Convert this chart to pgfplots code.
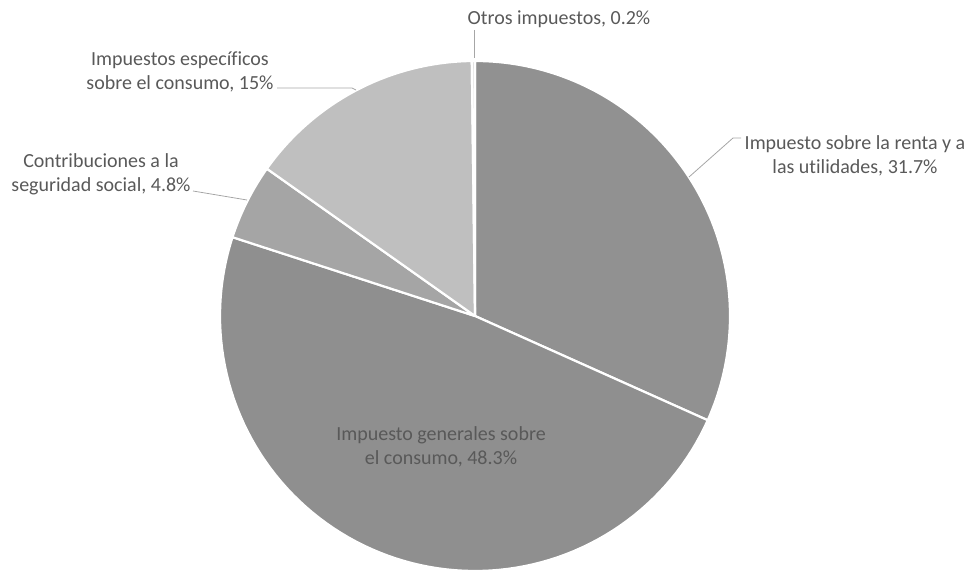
\documentclass[border=0pt]{standalone}
\usepackage{pgfplots}
\pgfplotsset{compat=1.18}
\usepackage{fontspec}
\setmainfont{Carlito}[Ligatures={NoCommon}]
\definecolor{cRenta}{HTML}{919191}
\definecolor{cGen}{HTML}{8F8F8F}
\definecolor{cContr}{HTML}{A5A5A5}
\definecolor{cEsp}{HTML}{BFBFBF}
\definecolor{cOtros}{HTML}{E0E0E0}
\definecolor{lab}{HTML}{595959}
\definecolor{lead}{HTML}{A6A6A6}
% shares in percent (clockwise from 12 o'clock)
\pgfmathsetmacro\vA{31.7}% Impuesto sobre la renta
\pgfmathsetmacro\vB{48.3}% Impuesto generales sobre el consumo
\pgfmathsetmacro\vC{4.8}% Contribuciones
\pgfmathsetmacro\vD{15}% Especificos
\pgfmathsetmacro\vE{0.2}% Otros
\pgfmathsetmacro\aA{90}
\pgfmathsetmacro\aB{\aA-3.6*\vA}
\pgfmathsetmacro\aC{\aB-3.6*\vB}
\pgfmathsetmacro\aD{\aC-3.6*\vC}
\pgfmathsetmacro\aE{\aD-3.6*\vD}
\pgfmathsetmacro\aF{\aE-3.6*\vE}
\begin{document}
\begin{tikzpicture}
\useasboundingbox (0,0) rectangle (968pt,572pt);
\begin{axis}[at={(0,0)}, anchor=south west, x=1pt, y=1pt,
  xmin=0, xmax=968, ymin=0, ymax=572, hide axis, clip=false,
  every axis plot/.append style={draw=white, line width=2.2pt, line join=round, samples=90}]
\addplot[fill=cRenta, domain=\aB:\aA] ({475+255*cos(x)},{256+255*sin(x)}) -- (axis cs:475,256) -- cycle;
\addplot[fill=cGen, domain=\aC:\aB] ({475+255*cos(x)},{256+255*sin(x)}) -- (axis cs:475,256) -- cycle;
\addplot[fill=cContr, domain=\aD:\aC] ({475+255*cos(x)},{256+255*sin(x)}) -- (axis cs:475,256) -- cycle;
\addplot[fill=cEsp, domain=\aE:\aD] ({475+255*cos(x)},{256+255*sin(x)}) -- (axis cs:475,256) -- cycle;
\addplot[fill=cOtros, domain=\aF:\aE, samples=5] ({475+255*cos(x)},{256+255*sin(x)}) -- (axis cs:475,256) -- cycle;
% leader lines
\addplot[draw=lead, line width=0.8pt] coordinates {(474,542) (474,514)};
\addplot[draw=lead, line width=0.8pt] coordinates {(277,484) (352,484) (356,482)};
\addplot[draw=lead, line width=0.8pt] coordinates {(193,381) (247,372)};
\addplot[draw=lead, line width=0.8pt] coordinates {(741,434) (733,434) (689,395)};
% labels
\tikzset{lbl/.style={align=center, text=lab, inner sep=0pt, font=\fontsize{20}{24}\selectfont}}
\node[lbl] at (axis cs:559,553) {Otros impuestos, 0.2\%};
\node[lbl] at (axis cs:180,500) {Impuestos específicos\\sobre el consumo, 15\%};
\node[lbl] at (axis cs:101,398) {Contribuciones a la\\seguridad social, 4.8\%};
\node[lbl] at (axis cs:855,416) {Impuesto sobre la renta y a\\las utilidades, 31.7\%};
\node[lbl] at (axis cs:441,125) {Impuesto generales sobre\\el consumo, 48.3\%};
\end{axis}
\end{tikzpicture}
\end{document}
